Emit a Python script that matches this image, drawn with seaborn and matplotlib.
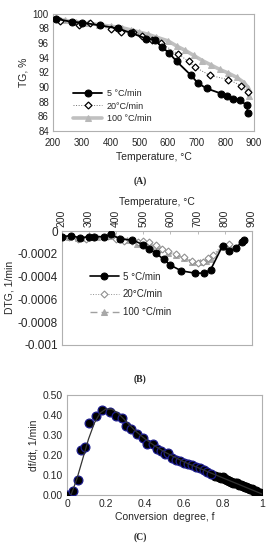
import numpy as np
import pandas as pd
import seaborn as sns
import matplotlib.pyplot as plt

# ---- (A) TG data ----
tg_t_5 = [210, 265, 300, 365, 425, 470, 525, 555, 578, 605, 630, 680, 705, 735, 785, 805, 825, 850, 875, 878]
tg_v_5 = [99.3, 98.9, 98.8, 98.4, 98.0, 97.4, 96.6, 96.4, 95.5, 94.6, 93.5, 91.6, 90.5, 89.8, 89.1, 88.7, 88.4, 88.2, 87.5, 86.5]

tg_t_20 = [225, 290, 330, 400, 435, 480, 510, 545, 575, 635, 672, 695, 745, 810, 855, 878]
tg_v_20 = [99.0, 98.5, 98.7, 97.9, 97.5, 97.5, 97.0, 96.4, 96.0, 94.5, 93.5, 92.7, 91.6, 91.0, 90.2, 89.3]

tg_t_100 = [210, 240, 280, 320, 360, 400, 440, 470, 500, 530, 560, 600, 630, 660, 690, 720, 750, 780, 810, 840, 865, 880, 882]
tg_v_100 = [99.4, 99.1, 98.9, 98.7, 98.5, 98.3, 98.1, 97.8, 97.5, 97.2, 96.8, 96.3, 95.6, 95.0, 94.3, 93.6, 93.0, 92.4, 91.9, 91.3, 90.6, 89.9, 88.7]

# ---- (B) DTG data ----
dtg_t_5 = [200, 235, 265, 300, 320, 355, 380, 415, 460, 500, 520, 545, 575, 600, 640, 690, 725, 748, 792, 815, 840, 862, 870]
dtg_v_5 = [-0.00005, -0.00004, -0.00006, -0.00005, -0.00005, -0.00005, -0.00003, -0.00007, -0.00008, -0.00012,
           -0.00016, -0.00019, -0.00025, -0.00030, -0.00035, -0.00037, -0.00037, -0.00034, -0.00013, -0.00018,
           -0.00015, -0.00010, -0.00008]

dtg_t_20 = [225, 260, 290, 320, 370, 400, 430, 460, 480, 500, 520, 545, 570, 590, 620, 650, 680, 700, 720, 740, 755, 790, 815]
dtg_v_20 = [-0.00005, -0.00007, -0.00007, -0.00005, -0.00004, -0.00007, -0.00009, -0.00009, -0.00010, -0.00009,
            -0.00010, -0.00012, -0.00016, -0.00018, -0.00020, -0.00023, -0.00026, -0.00028, -0.00027, -0.00024,
            -0.00021, -0.00013, -0.00011]

dtg_t_100 = [225, 260, 290, 330, 375, 410, 440, 475, 500, 530, 560, 590, 620, 650, 680, 710, 730, 750, 790, 815]
dtg_v_100 = [-0.00005, -0.00006, -0.00006, -0.00005, -0.00004, -0.00006, -0.00008, -0.00011, -0.00010, -0.00013,
             -0.00016, -0.00019, -0.00021, -0.00024, -0.00027, -0.00027, -0.00026, -0.00025, -0.00014, -0.00012]

# ---- (C) conversion rate data ----
conv_f = [0.00, 0.03, 0.055, 0.07, 0.09, 0.11, 0.15, 0.18, 0.22, 0.25, 0.28, 0.30, 0.33, 0.36, 0.39, 0.41,
          0.44, 0.46, 0.48, 0.50, 0.52, 0.54, 0.56, 0.58, 0.60, 0.62, 0.64, 0.66, 0.68, 0.70, 0.72, 0.74,
          0.76, 0.78, 0.79, 0.80, 0.81, 0.82, 0.83, 0.84, 0.85, 0.86, 0.87, 0.88, 0.89, 0.90, 0.91, 0.92,
          0.93, 0.94, 0.95, 0.96, 0.97, 0.98, 0.99, 1.00]
conv_r = [0.00, 0.02, 0.075, 0.225, 0.24, 0.36, 0.395, 0.425, 0.415, 0.395, 0.385, 0.345, 0.33, 0.305, 0.285, 0.255,
          0.255, 0.23, 0.22, 0.205, 0.21, 0.185, 0.175, 0.17, 0.16, 0.155, 0.15, 0.14, 0.135, 0.125, 0.115, 0.105,
          0.095, 0.09, 0.085, 0.088, 0.078, 0.075, 0.07, 0.066, 0.062, 0.06, 0.058, 0.05, 0.048, 0.045, 0.04, 0.038,
          0.035, 0.03, 0.028, 0.022, 0.018, 0.012, 0.008, 0.005]
fit_f = [0.02, 0.05, 0.08, 0.11, 0.14, 0.17, 0.20, 0.23, 0.26, 0.30, 0.35, 0.40, 0.45, 0.50, 0.55, 0.60,
         0.65, 0.70, 0.75, 0.80, 0.85, 0.90, 0.95, 1.00]
fit_r = [0.0, 0.08, 0.18, 0.28, 0.36, 0.41, 0.43, 0.428, 0.41, 0.37, 0.32, 0.28, 0.245, 0.215, 0.19, 0.165,
         0.145, 0.125, 0.105, 0.085, 0.065, 0.045, 0.025, 0.005]

sns.set_style("white")
plt.rcParams['font.family'] = ['Liberation Sans', 'DejaVu Sans']
plt.rcParams['font.size'] = 6.5
grey = '#b0b0b0'

fig = plt.figure(figsize=(2.75, 5.5), dpi=100)
axA = fig.add_axes([0.193, 0.762, 0.731, 0.213])
axB = fig.add_axes([0.225, 0.373, 0.691, 0.207])
axC = fig.add_axes([0.244, 0.100, 0.709, 0.182])

# Panel A
sns.lineplot(x=tg_t_100, y=tg_v_100, ax=axA, sort=False, color='#c0c0c0', lw=2.6,
             marker='^', ms=4.5, mfc='#b8b8b8', mec='#b8b8b8', label='100 °C/min')
sns.lineplot(x=tg_t_20, y=tg_v_20, ax=axA, sort=False, color='#707070', lw=0.7, ls=':',
             marker='D', ms=3.5, mfc='white', mec='black', mew=0.9, label='20°C/min')
sns.lineplot(x=tg_t_5, y=tg_v_5, ax=axA, sort=False, color='black', lw=1.3,
             marker='o', ms=5, mfc='black', mec='black', label='5 °C/min')
axA.set_xlim(200, 900)
axA.set_ylim(84, 100)
axA.set_xticks(range(200, 901, 100))
axA.set_yticks(range(84, 101, 2))
axA.set_xlabel('Temperature, °C', fontsize=7.5, labelpad=3)
axA.set_ylabel('TG, %', fontsize=7.5, labelpad=3)
h, l = axA.get_legend_handles_labels()
axA.legend(h[::-1], l[::-1], loc='lower left', frameon=False, fontsize=6.5,
           handlelength=3.2, handletextpad=0.5, labelspacing=0.35, bbox_to_anchor=(0.06, 0.0))

# Panel B
sns.lineplot(x=dtg_t_100, y=dtg_v_100, ax=axB, sort=False, color='#a0a0a0', lw=1.0, ls=(0, (5, 3)),
             marker='^', ms=4.5, mfc='#a8a8a8', mec='#a8a8a8', label='100 °C/min')
sns.lineplot(x=dtg_t_20, y=dtg_v_20, ax=axB, sort=False, color='#909090', lw=0.7, ls=':',
             marker='D', ms=3.5, mfc='white', mec='#909090', mew=0.8, label='20°C/min')
sns.lineplot(x=dtg_t_5, y=dtg_v_5, ax=axB, sort=False, color='black', lw=1.2,
             marker='o', ms=5, mfc='black', mec='black', label='5 °C/min')
axB.set_xlim(200, 900)
axB.set_ylim(-0.001, 0)
axB.set_xticks(range(200, 901, 100))
axB.set_yticks([-0.001, -0.0008, -0.0006, -0.0004, -0.0002, 0])
axB.set_yticklabels(['-0.001', '-0.0008', '-0.0006', '-0.0004', '-0.0002', '0'])
axB.xaxis.tick_top()
axB.xaxis.set_label_position('top')
axB.set_xlabel('Temperature, °C', fontsize=7.5, labelpad=3)
axB.set_ylabel('DTG, 1/min', fontsize=7.5, labelpad=2)
h, l = axB.get_legend_handles_labels()
axB.legend(h[::-1], l[::-1], loc='upper left', frameon=False, fontsize=7,
           handlelength=3.0, handletextpad=0.4, labelspacing=0.8, bbox_to_anchor=(0.1, 0.72))

# Panel C
cdf = pd.DataFrame({'f': conv_f, 'r': conv_r})
early = cdf[cdf['f'] < 0.755]
late = cdf[cdf['f'] >= 0.755]
sns.scatterplot(data=late, x='f', y='r', ax=axC, s=40, color='black', edgecolor='black', linewidth=0.8)
sns.scatterplot(data=early, x='f', y='r', ax=axC, s=40, color='black', edgecolor='#1c1c8c', linewidth=0.9)
sns.lineplot(x=fit_f, y=fit_r, ax=axC, sort=False, color='#333333', lw=0.9)
axC.set_xlim(0, 1)
axC.set_ylim(0, 0.5)
axC.set_xticks([0, 0.2, 0.4, 0.6, 0.8, 1])
axC.set_xticklabels(['0', '0.2', '0.4', '0.6', '0.8', '1'])
axC.set_yticks(np.arange(0, 0.51, 0.1))
axC.set_yticklabels(['0.00', '0.10', '0.20', '0.30', '0.40', '0.50'])
axC.set_xlabel('Conversion  degree, f', fontsize=7.5, labelpad=2)
axC.set_ylabel('df/dt, 1/min', fontsize=7.5, labelpad=3)

for ax in (axA, axB, axC):
    for sp in ax.spines.values():
        sp.set_color(grey)
        sp.set_linewidth(0.8)
        sp.set_zorder(0)
    ax.tick_params(axis='both', labelsize=7, length=2, width=0.6, color=grey, pad=3, direction='in')
axA.tick_params(axis='x', pad=5)
axB.tick_params(axis='y', labelsize=8.5, pad=3)
axB.tick_params(axis='x', labelsize=7.5, pad=3)
plt.setp(axB.get_xticklabels(), rotation=90)
axC.tick_params(axis='both', labelsize=7.5)

for txt, y in (('(A)', 181), ('(B)', 379), ('(C)', 537)):
    fig.text(140 / 275, 1 - y / 550, txt, ha='center', va='center', fontsize=7,
             family='Liberation Serif', fontweight='bold')

fig.savefig('out.png', dpi=100)
